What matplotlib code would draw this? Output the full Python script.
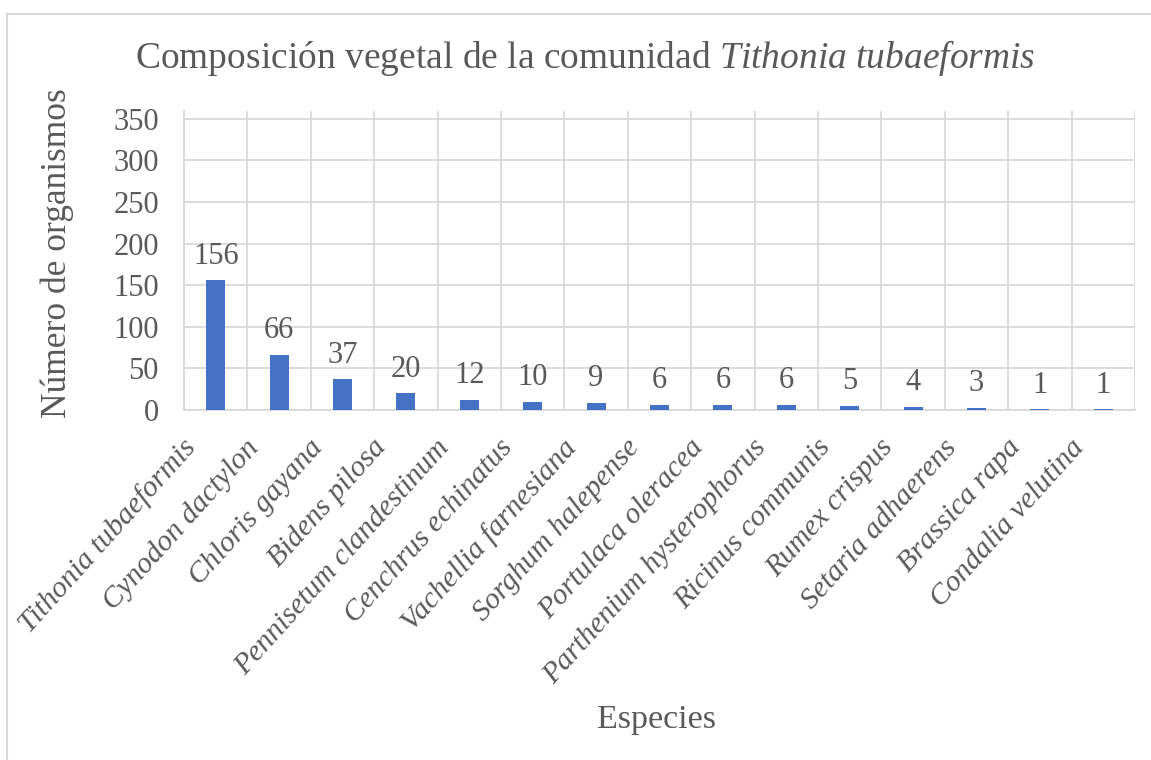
import matplotlib
matplotlib.use('Agg')
import matplotlib.pyplot as plt
from matplotlib.lines import Line2D
from matplotlib.transforms import ScaledTranslation
import numpy as np

especies = ['Tithonia tubaeformis', 'Cynodon dactylon', 'Chloris gayana', 'Bidens pilosa',
            'Pennisetum clandestinum', 'Cenchrus echinatus', 'Vachellia farnesiana',
            'Sorghum halepense', 'Portulaca oleracea', 'Parthenium hysterophorus',
            'Ricinus communis', 'Rumex crispus', 'Setaria adhaerens', 'Brassica rapa',
            'Condalia velutina']
organismos = [156, 66, 37, 20, 12, 10, 9, 6, 6, 6, 5, 4, 3, 1, 1]
yticks = [0, 50, 100, 150, 200, 250, 300, 350]

gris = '#595959'
grid_c = '#D9D9D9'
azul = '#4472C4'

plt.rcParams['font.family'] = ['Liberation Serif', 'DejaVu Serif']
plt.rcParams['mathtext.fontset'] = 'custom'
plt.rcParams['mathtext.rm'] = 'Liberation Serif'
plt.rcParams['mathtext.it'] = 'Liberation Serif:italic'

W, H = 1151, 760
fig = plt.figure(figsize=(W / 100, H / 100), dpi=100)
ax = fig.add_axes([184 / W, 1 - 410 / H, (1135 - 184) / W, (410 - 111) / H])

x = np.arange(len(especies))
ax.bar(x, organismos, width=0.30, color=azul, zorder=3)

for xi, v in zip(x, organismos):
    ax.annotate(str(v), (xi, v), xytext=(0, 12), textcoords='offset points',
                ha='center', va='baseline', fontsize=22, color=gris)

ax.set_xlim(-0.5, len(especies) - 0.5)
ax.set_ylim(0, 359.3)
ax.set_yticks(yticks)
ax.set_yticklabels([str(t) for t in yticks], fontsize=22, color=gris)
ax.tick_params(axis='y', length=0, pad=18)

ax.set_xticks(x)
ax.set_xticklabels(especies, rotation=48, ha='right', va='center',
                   rotation_mode='anchor', fontsize=21.5, color=gris, style='italic')
ax.tick_params(axis='x', which='major', length=0, pad=24)
ax.set_xticks(np.arange(-0.5, len(especies), 1), minor=True)
ax.tick_params(axis='x', which='minor', length=0)
offset = ScaledTranslation(-24 / 100, 0, fig.dpi_scale_trans)
for lbl in ax.get_xticklabels():
    lbl.set_transform(lbl.get_transform() + offset)

ax.grid(axis='y', which='major', color=grid_c, linewidth=1.3, zorder=0)
ax.grid(axis='x', which='minor', color=grid_c, linewidth=1.3, zorder=0)
ax.grid(axis='x', which='major', visible=False)

for s in ['top', 'right']:
    ax.spines[s].set_visible(False)
for s in ['left', 'bottom']:
    ax.spines[s].set_color(grid_c)
    ax.spines[s].set_linewidth(1.3)

fig.text(585 / W, 1 - 58 / H,
         r'Composición vegetal de la comunidad $\mathit{Tithonia\ tubaeformis}$',
         ha='center', va='center', fontsize=27, color=gris)
fig.text(57 / W, 1 - 253 / H, 'Número de organismos', rotation=90,
         ha='center', va='center', fontsize=25.5, color=gris)
fig.text(657 / W, 1 - 720 / H, 'Especies', ha='center', va='center',
         fontsize=24.5, color=gris)

# marco del área del gráfico
fig.add_artist(Line2D([7 / W, 1], [1 - 14 / H, 1 - 14 / H], color=grid_c, linewidth=1.5))
fig.add_artist(Line2D([7 / W, 7 / W], [0, 1 - 14 / H], color=grid_c, linewidth=1.5))

fig.savefig('out.png', dpi=100)
